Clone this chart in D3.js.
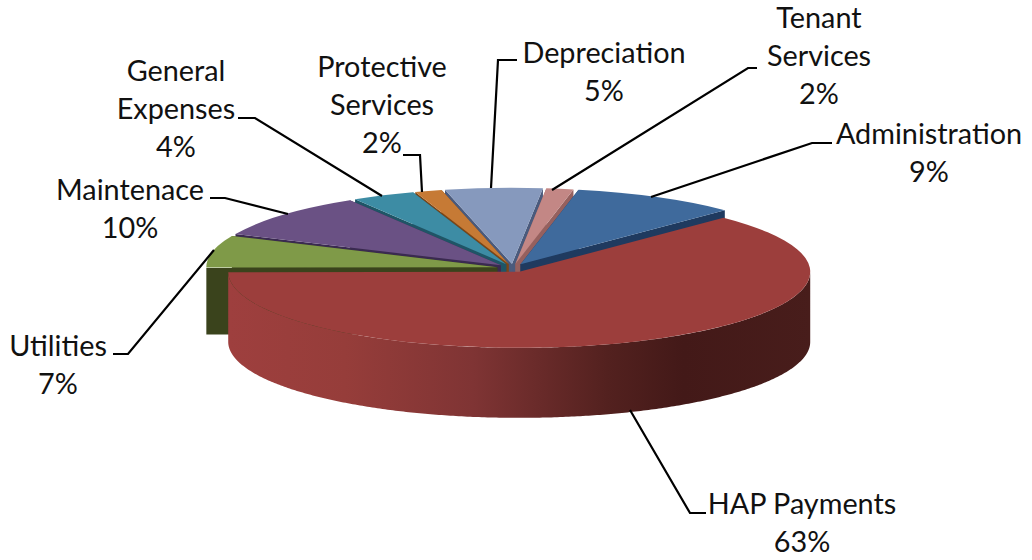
<!DOCTYPE html>
<html>
<head>
<meta charset="utf-8">
<script src="https://cdn.jsdelivr.net/npm/d3@7"></script>
<style>
  html, body { margin: 0; padding: 0; background: #fff; }
  text { font-family: Lato, "Open Sans", sans-serif; font-size: 28.8px; fill: #111; }
</style>
</head>
<body>
<div id="chart"></div>
<script>
// pie data, in the order the slices run clockwise
var categories = ['Administration', 'HAP Payments', 'Utilities', 'Maintenace', 'General Expenses', 'Protective Services', 'Depreciation', 'Tenant Services'];
var values = [9.2, 62.6, 6.8, 9.6, 3.5, 1.5, 5.4, 1.5];
var percentLabels = ['9%', '63%', '7%', '10%', '4%', '2%', '5%', '2%'];
var topColors = ['#3f6a9c', '#9c3e3c', '#7f9a48', '#6a5184', '#3d8ca4', '#c67a35', '#8699bd', '#c38785'];
var wallColors = ['#1f3a5f', '#4a1c1b', '#3a431c', '#3a2a50', '#1f5566', '#7a4617', '#4a5a7c', '#96605e'];

// label layout: text lines, centre x, centre y of first line
var labelLayout = [
  { lines: ['Administration'], x: 929, y: 134 },
  { lines: ['HAP Payments'], x: 802, y: 504 },
  { lines: ['Utilities'], x: 58, y: 346 },
  { lines: ['Maintenace'], x: 130, y: 190 },
  { lines: ['General', 'Expenses'], x: 176, y: 71 },
  { lines: ['Protective', 'Services'], x: 382, y: 67 },
  { lines: ['Depreciation'], x: 604, y: 53 },
  { lines: ['Tenant', 'Services'], x: 819, y: 18 }
];
var leaders = [
  [[832, 143], [812, 143], [651, 197]],
  [[706, 513], [690, 513], [630, 410]],
  [[113, 354], [128, 354], [214, 250]],
  [[210, 198], [225, 198], [288, 214]],
  [[238, 118], [255, 118], [382, 196]],
  [[403, 155], [420, 155], [422, 192]],
  [[517, 60], [498, 60], [491, 188]],
  [[757, 68], [748, 68], [552, 190]]
];

var width = 1032, height = 560;
var cx = 513, cy = 268;      // pie centre on the page
var rx = 291, ry = 76;       // top face ellipse
var depth = 67, hapDepth = 70;
var explode = 0.055;
var startDeg = 11.5;

var svg = d3.select('#chart').append('svg')
  .attr('width', width)
  .attr('height', height)
  .style('display', 'block');

var pie = d3.pie().sort(null)
  .startAngle(startDeg * Math.PI / 180)
  .endAngle((startDeg + 360) * Math.PI / 180);
var slices = pie(values).map(function(d, i) {
  var mid = (d.startAngle + d.endAngle) / 2;
  d.i = i;
  d.ox = cx + explode * rx * Math.sin(mid);
  d.oy = cy - explode * ry * Math.cos(mid);
  return d;
});

var arc = d3.arc().innerRadius(0).outerRadius(rx);

function edgePoint(d, a) {
  return [d.ox + rx * Math.sin(a), d.oy - ry * Math.cos(a)];
}

// HAP side wall shading runs left to right
var grad = svg.append('defs').append('linearGradient')
  .attr('id', 'hapWall')
  .attr('gradientUnits', 'userSpaceOnUse')
  .attr('x1', 229).attr('x2', 811).attr('y1', 0).attr('y2', 0);
[[0, '#9e3f3e'], [0.2, '#963d3a'], [0.42, '#7f3434'], [0.65, '#53211f'], [0.78, '#431918'], [1, '#481d1b']]
  .forEach(function(s) {
    grad.append('stop').attr('offset', s[0]).attr('stop-color', s[1]);
  });

// painter's order: back slices first, HAP last
var drawOrder = [6, 5, 4, 3, 2, 7, 0, 1];
var wallLine = d3.line();

var g = svg.append('g');
drawOrder.forEach(function(idx) {
  var d = slices[idx];
  var sliceG = g.append('g').attr('class', 'slice');

  // flat cut faces, the HAP ones are hidden behind its own top and wall
  if (idx !== 1) {
    [d.startAngle, d.endAngle].forEach(function(a) {
      var p = edgePoint(d, a);
      sliceG.append('path')
        .attr('d', wallLine([[d.ox, d.oy], p, [p[0], p[1] + depth], [d.ox, d.oy + depth]]) + 'Z')
        .attr('fill', wallColors[idx]);
    });
  }

  // curved outer wall, only the part that faces the viewer
  var a0 = Math.max(d.startAngle, Math.PI / 2);
  var a1 = Math.min(d.endAngle, Math.PI * 1.5);
  if (a1 > a0) {
    var angles = d3.range(a0, a1, 0.01).concat([a1]);
    var side = d3.area()
      .x(function(a) { return edgePoint(d, a)[0]; })
      .y0(function(a) { return edgePoint(d, a)[1]; })
      .y1(function(a) { return edgePoint(d, a)[1] + (idx === 1 ? hapDepth : depth); });
    sliceG.append('path')
      .attr('d', side(angles))
      .attr('fill', idx === 1 ? 'url(#hapWall)' : wallColors[idx]);
  }

  // top face: the circular arc squashed into an ellipse
  sliceG.append('path')
    .attr('d', arc(d))
    .attr('transform', 'translate(' + d.ox + ',' + d.oy + ') scale(1,' + (ry / rx) + ')')
    .attr('fill', topColors[idx]);
});

var line = d3.line();
svg.append('g').selectAll('path')
  .data(leaders)
  .enter()
  .append('path')
  .attr('d', function(d) { return line(d); })
  .attr('fill', 'none')
  .attr('stroke', '#000')
  .attr('stroke-width', 2.2);

var lineStep = 38;
var labels = svg.append('g').selectAll('text')
  .data(labelLayout)
  .enter()
  .append('text')
  .attr('text-anchor', 'middle');
labels.each(function(d, i) {
  var t = d3.select(this);
  d.lines.concat([percentLabels[i]]).forEach(function(s, k) {
    t.append('tspan')
      .attr('x', d.x)
      .attr('y', d.y + k * lineStep + 10)
      .text(s);
  });
});
</script>
</body>
</html>
